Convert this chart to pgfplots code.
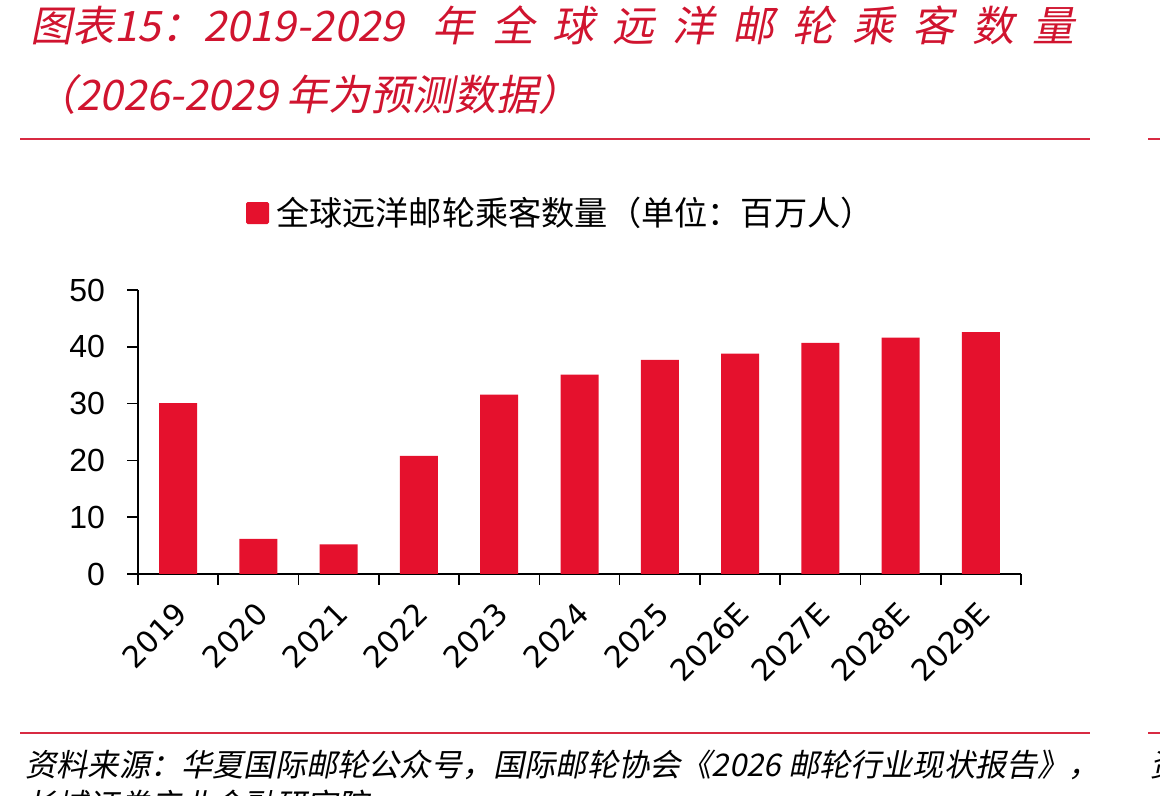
\documentclass[border=0pt]{standalone}
\usepackage{fontspec}
\usepackage{pgfplots}
\usepackage{pgfplotstable}
\pgfplotsset{compat=1.18}
\setmainfont{Liberation Sans}
\newfontfamily\cjk{Noto Sans CJK SC}
\newfontfamily\cjkit[FakeSlant=0.2]{Noto Sans CJK SC}
\newfontfamily\ticksans{DejaVu Sans}
\definecolor{barred}{HTML}{E5112D}
\definecolor{titlered}{HTML}{D0142F}
\definecolor{rulered}{HTML}{D82A42}

% Global ocean cruise passengers, millions (2026-2029 forecast)
\pgfplotstableread{
idx year val
0  2019  30.1
1  2020  6.2
2  2021  5.2
3  2022  20.8
4  2023  31.6
5  2024  35.1
6  2025  37.7
7  2026E 38.8
8  2027E 40.7
9  2028E 41.6
10 2029E 42.6
}\passengers

\newcommand\tg{\hspace{9pt}}

\begin{document}
\begin{tikzpicture}[x=0.5pt,y=0.5pt]
\useasboundingbox (0,0) rectangle (1160,796);
\clip (0,0) rectangle (1160,796);

% heading
\node[anchor=west, inner sep=0, text=titlered, font=\cjkit\fontsize{21}{25}\selectfont]
  at (30,771) {图表15：2019-2029\hspace{14pt}年\tg 全\tg 球\tg 远\tg 洋\tg 邮\tg 轮\tg 乘\tg 客\tg 数\tg 量};
\node[anchor=west, inner sep=0, text=titlered, font=\cjkit\fontsize{21}{25}\selectfont]
  at (34,701) {（2026-2029 年为预测数据）};
\draw[rulered, line width=1.3pt] (20,657) -- (1090,657);
\draw[rulered, line width=1.3pt] (1148,657) -- (1160,657);

% source note
\draw[rulered, line width=1.3pt] (20,63) -- (1090,63);
\draw[rulered, line width=1.3pt] (1148,63) -- (1160,63);
\node[anchor=west, inner sep=0, font=\cjkit\fontsize{15.6}{18}\selectfont]
  at (25,31) {资料来源：华夏国际邮轮公众号，国际邮轮协会《2026 邮轮行业现状报告》，};
\node[anchor=west, inner sep=0, font=\cjkit\fontsize{15.6}{18}\selectfont]
  at (25,-9) {长城证券产业金融研究院};
\node[anchor=west, inner sep=0, font=\cjkit\fontsize{15.6}{18}\selectfont]
  at (1150,31) {资};

\begin{axis}[
  at={(69pt,111pt)}, anchor=south west,
  scale only axis, width=441.5pt, height=142pt,
  xmin=-0.5, xmax=10.5, ymin=0, ymax=50,
  axis x line=bottom, axis y line=left,
  axis line style={-, black, line width=0.8pt},
  tick align=outside,
  major tick length=5.5pt,
  every tick/.style={black, line width=0.8pt},
  ytick={0,10,...,50},
  /pgf/number format/assume math mode=true,
  yticklabel style={font=\fontsize{16}{18}\selectfont, xshift=-7.5pt},
  xtick={-0.5,0.5,...,10.5},
  xticklabels={},
  extra x ticks={0,...,10},
  extra x tick labels={2019,2020,2021,2022,2023,2024,2025,2026E,2027E,2028E,2029E},
  extra x tick style={major tick length=0pt,
    xticklabel style={rotate=45, anchor=east, font=\ticksans\fontsize{15}{18}\selectfont,
      xshift=-7.4pt, yshift=-13.4pt}},
  ybar, bar width=19pt,
  legend style={at={(0.480,1.271)}, anchor=center, draw=none,
    font=\cjk\fontsize{16.6}{19}\selectfont, inner sep=0pt},
  legend image code/.code={\fill[barred, rounded corners=0.8pt] (0pt,-5.5pt) rectangle (11.5pt,5.5pt);},
  clip=false,
]
\addplot[fill=barred, draw=none] table[x=idx, y=val] {\passengers};
\addlegendentry{\hspace{1.5pt}全球远洋邮轮乘客数量（单位：百万人）}
\end{axis}
\end{tikzpicture}
\end{document}
